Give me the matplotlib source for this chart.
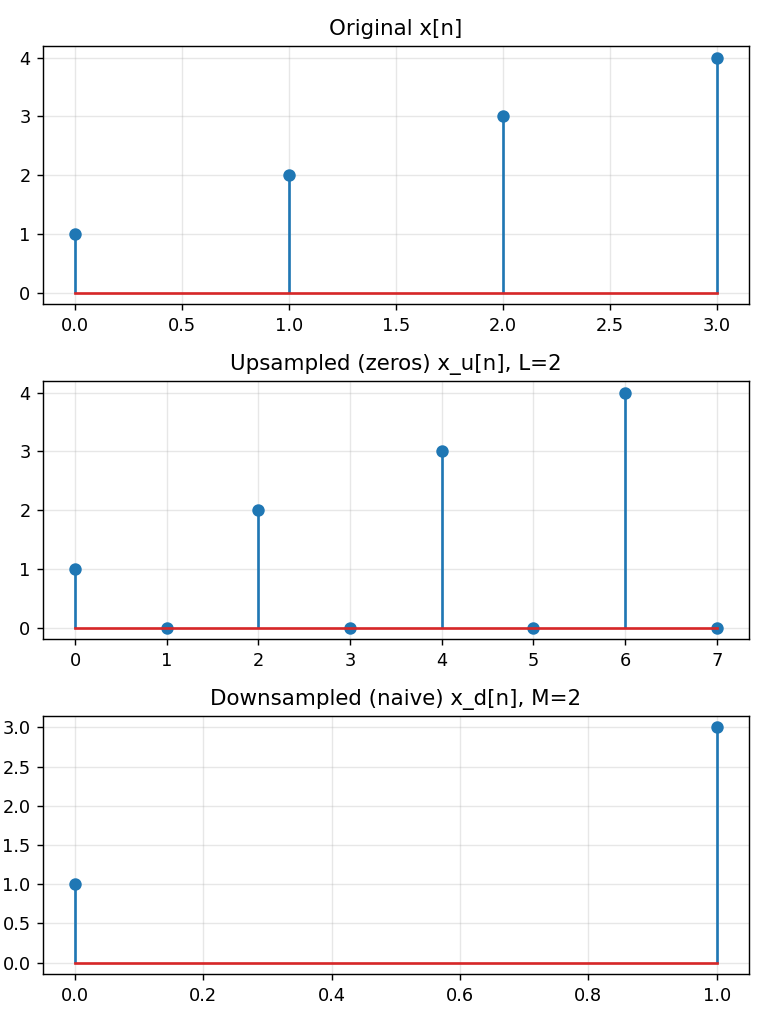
import matplotlib
matplotlib.use("Agg")
import matplotlib.pyplot as plt
import numpy as np

x_orig = [1, 2, 3, 4]
x_up = [1, 0, 2, 0, 3, 0, 4, 0]
x_down = [1, 3]

titles = ["Original x[n]", "Upsampled (zeros) x_u[n], L=2", "Downsampled (naive) x_d[n], M=2"]
series = [x_orig, x_up, x_down]

fig, axes = plt.subplots(3, 1, figsize=(6, 8), dpi=128)
for ax, t, y in zip(axes, titles, series):
    n = np.arange(len(y))
    markerline, stemlines, baseline = ax.stem(n, y)
    baseline.set_color("tab:red")
    ax.set_title(t)
    ax.grid(True, alpha=0.3)
fig.tight_layout()
fig.savefig("out.png", dpi=128)
